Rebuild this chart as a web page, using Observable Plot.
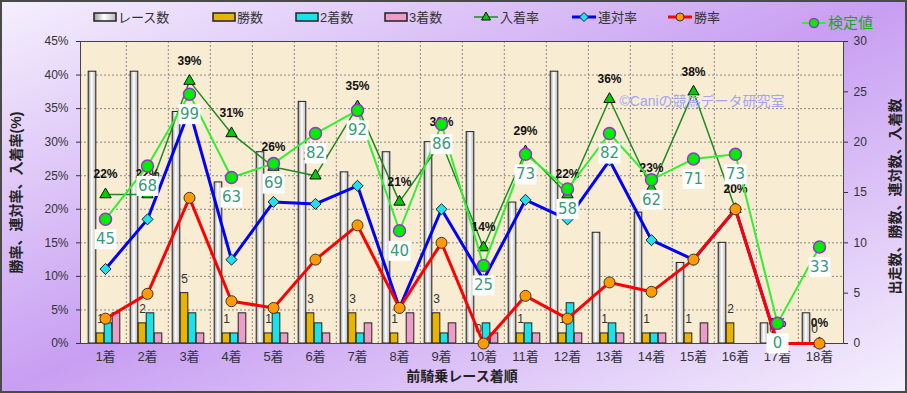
<!DOCTYPE html>
<html><head><meta charset="utf-8">
<script src="https://cdn.jsdelivr.net/npm/d3@7"></script>
<script src="https://cdn.jsdelivr.net/npm/@observablehq/plot@0.6"></script>
<style>
html,body{margin:0;padding:0;background:#fff;}
#chart{width:907px;height:393px;position:relative;overflow:hidden;
 background:linear-gradient(to bottom right,#f5f0fd 0%,#c89ef2 50%,#f5f0fd 100%);}
#chart svg{position:absolute;left:0;top:0;background:transparent;}
#border{position:absolute;left:0;top:0;width:907px;height:393px;box-sizing:border-box;border:2px solid #4a4a4a;pointer-events:none}
</style></head><body><div id="chart"><div id="border"></div></div>
<script>
// ---- data ----
const categories = ["1着","2着","3着","4着","5着","6着","7着","8着","9着","10着","11着","12着","13着","14着","15着","16着","17着","18着"];
const raceCounts   = [27, 27, 23, 16, 19, 24, 17, 19, 20, 21, 14, 27, 11, 13, 8, 10, 2, 3];
const winCounts    = [1, 2, 5, 1, 1, 3, 3, 1, 3, 0, 1, 1, 1, 1, 1, 2, 0, 0];
const secondCounts = [2, 3, 3, 1, 3, 2, 1, 0, 1, 2, 2, 4, 2, 1, 0, 0, 0, 0];
const thirdCounts  = [3, 1, 1, 3, 1, 1, 2, 3, 2, 1, 1, 1, 1, 1, 2, 0, 0, 0];
const winRate      = [3.7, 7.4, 21.7, 6.3, 5.3, 12.5, 17.6, 5.3, 15.0, 0, 7.1, 3.7, 9.1, 7.7, 12.5, 20.0, 0, 0];
const rentaiRate   = [11.1, 18.5, 34.8, 12.5, 21.1, 20.8, 23.5, 5.3, 20.0, 9.5, 21.4, 18.5, 27.3, 15.4, 12.5, 20.0, 0, 0];
const placeRate    = [22.2, 22.2, 39.1, 31.3, 26.3, 25.0, 35.3, 21.1, 30.0, 14.3, 28.6, 22.2, 36.4, 23.1, 37.5, 20.0, 0, 0];
const testValues   = [45, 68, 99, 63, 69, 82, 92, 40, 86, 25, 73, 58, 82, 62, 71, 73, 0, 33];
const rateTicks  = [0, 5, 10, 15, 20, 25, 30, 35, 40, 45];
const countTicks = [0, 5, 10, 15, 20, 25, 30];

// ---- scale helpers (right count axis 0-30 shares the 0-45% axis; 検定値 on its own hidden axis) ----
const C2R = 45 / 30;
const testToRate = v => 3 + 0.345 * v;

const rows = categories.map((c, i) => ({
  cat: c, races: raceCounts[i], wins: winCounts[i], seconds: secondCounts[i], thirds: thirdCounts[i],
  win: winRate[i], rentai: rentaiRate[i], place: placeRate[i], test: testValues[i]
}));

const W = 907, H = 393, ML = 80, MR = 64, MT = 41, MB = 50;
const bw = (W - ML - MR) / categories.length;
const half = bw / 2;
const FONT = "'Liberation Sans','Noto Sans CJK JP',sans-serif";

const boxSymbol = {draw(ctx) { ctx.rect(-11, -10, 22, 20); }};

const barStyle = {stroke: "#222", strokeWidth: 1};

const plot = Plot.plot({
  width: W, height: H,
  marginLeft: ML, marginRight: MR, marginTop: MT, marginBottom: MB,
  style: {fontFamily: FONT, fontSize: "12px", color: "#333", background: "transparent"},
  x: {type: "band", domain: categories, padding: 0, label: null},
  y: {domain: [0, 45], label: null},
  marks: [
    Plot.frame({fill: "#f8ecd3"}),
    Plot.gridY(rateTicks, {stroke: "#8a8a8a", strokeOpacity: 1, strokeDasharray: "2,2"}),
    Plot.ruleX(categories.slice(1), {dx: -half, stroke: "#8a8a8a", strokeDasharray: "2,2"}),
    Plot.barY(rows, {x: "cat", y: d => d.races * C2R, fill: "url(#raceGrad)", insetLeft: half - 17, insetRight: bw - half + 9, ...barStyle}),
    Plot.barY(rows.filter(d => d.wins > 0), {x: "cat", y: d => d.wins * C2R, fill: "#e8b400", insetLeft: half - 9, insetRight: half + 1, ...barStyle}),
    Plot.barY(rows.filter(d => d.seconds > 0), {x: "cat", y: d => d.seconds * C2R, fill: "#19e3ea", insetLeft: half - 1, insetRight: half - 7, ...barStyle}),
    Plot.barY(rows.filter(d => d.thirds > 0), {x: "cat", y: d => d.thirds * C2R, fill: "#ec9cc8", insetLeft: half + 7, insetRight: half - 15, ...barStyle}),
    Plot.frame({stroke: "#444"}),
    Plot.axisY(rateTicks, {anchor: "left", tickFormat: d => d + "%", tickSize: 4, tickPadding: 8, fontSize: 12, label: null}),
    Plot.axisY(countTicks.map(c => c * C2R), {anchor: "right", tickFormat: d => Math.round(d / C2R), tickSize: 4, tickPadding: 6, fontSize: 12, label: null}),
    Plot.axisX({tickSize: 0, tickPadding: 8, fontSize: 13, label: null}),
    // 入着率
    Plot.line(rows, {x: "cat", y: "place", stroke: "#1f8a1f", strokeWidth: 1.5}),
    Plot.dot(rows, {x: "cat", y: "place", symbol: "triangle", r: 4.2, fill: "#00cc00", stroke: "#111", strokeWidth: 1}),
    Plot.text(rows, {x: "cat", y: "place", text: d => Math.round(d.place) + "%", dy: -20, fontSize: 12, fontWeight: "bold", fill: "#111"}),
    // 勝数 labels
    Plot.text(rows, {x: "cat", y: d => d.wins * C2R, text: d => String(d.wins), dx: -5, dy: -14, fontSize: 12, fill: "#333"}),
    // 連対率
    Plot.line(rows, {x: "cat", y: "rentai", stroke: "#0000ff", strokeWidth: 3}),
    Plot.dot(rows, {x: "cat", y: "rentai", symbol: "diamond2", r: 5, fill: "#22e0f0", stroke: "#222", strokeWidth: 1}),
    // 勝率
    Plot.line(rows, {x: "cat", y: "win", stroke: "#ff0000", strokeWidth: 3}),
    Plot.dot(rows, {x: "cat", y: "win", r: 5.5, fill: "#ff9a00", stroke: "#333", strokeWidth: 1}),
    // 検定値
    Plot.line(rows, {x: "cat", y: d => testToRate(d.test), stroke: "#33ee33", strokeWidth: 2}),
    Plot.dot(rows, {x: "cat", y: d => testToRate(d.test), r: 6, fill: "#00ee00", stroke: "#9933cc", strokeWidth: 1.5}),
    Plot.dot(rows, {x: "cat", y: d => testToRate(d.test), dy: 20, symbol: boxSymbol, r: 5, fill: "#ffffff", stroke: "none"}),
    Plot.text(rows, {x: "cat", y: d => testToRate(d.test), text: d => String(d.test), dy: 20, fontSize: 15, fill: "#3a9a7a", fontFamily: "'DejaVu Sans',sans-serif"}),
    // titles & watermark
    Plot.text(["勝率、連対率、入着率(%)"], {frameAnchor: "left", textAnchor: "middle", dx: -64, rotate: -90, fontSize: 14, fontWeight: "bold", fill: "#222"}),
    Plot.text(["出走数、勝数、連対数、入着数"], {frameAnchor: "right", textAnchor: "middle", dx: 52, dy: 4, rotate: -90, fontSize: 14, fontWeight: "bold", fill: "#222"}),
    Plot.text(["前騎乗レース着順"], {frameAnchor: "bottom", textAnchor: "middle", dy: 37, fontSize: 14, fontWeight: "bold", fill: "#222"}),
    Plot.text(["©Caniの競馬データ研究室"], {frameAnchor: "top-left", dx: 539, dy: 55, textAnchor: "start", fontSize: 14, fill: "#a4a4f2"})
  ]
});

const svg = d3.select(plot);
const defs = svg.insert("defs", ":first-child");
const g = defs.append("linearGradient").attr("id", "raceGrad").attr("x1", "0").attr("x2", "1").attr("y1", "0").attr("y2", "0");
g.append("stop").attr("offset", "0%").attr("stop-color", "#9a9a9a");
g.append("stop").attr("offset", "45%").attr("stop-color", "#ffffff");
g.append("stop").attr("offset", "100%").attr("stop-color", "#b8b8b8");

// ---- legend ----
const legendItems = [
  {label: "レース数", kind: "bar", fill: "url(#raceGrad)", tx: 118},
  {label: "勝数", kind: "bar", fill: "#e8b400", tx: 237},
  {label: "2着数", kind: "bar", fill: "#19e3ea", tx: 320},
  {label: "3着数", kind: "bar", fill: "#ec9cc8", tx: 409},
  {label: "入着率", kind: "line", stroke: "#1f8a1f", sym: "tri", fill: "#00cc00", tx: 500},
  {label: "連対率", kind: "line", stroke: "#0000ff", sym: "dia", fill: "#22e0f0", tx: 598},
  {label: "勝率", kind: "line", stroke: "#ff0000", sym: "circ", fill: "#ff9a00", tx: 694}
];
const lg = svg.append("g").attr("font-family", FONT).attr("text-anchor", "start");
for (const it of legendItems) {
  const y = 17;
  if (it.kind === "bar") {
    lg.append("rect").attr("x", it.tx - 24).attr("y", y - 4).attr("width", 22).attr("height", 8)
      .attr("fill", it.fill).attr("stroke", "#222").attr("stroke-width", 1.5);
  } else {
    lg.append("line").attr("x1", it.tx - 26).attr("x2", it.tx - 2).attr("y1", y).attr("y2", y)
      .attr("stroke", it.stroke).attr("stroke-width", it.sym === "tri" ? 1.5 : 3);
    const cx = it.tx - 14;
    if (it.sym === "tri") lg.append("path").attr("d", `M${cx},${y-5}L${cx+4.5},${y+3}L${cx-4.5},${y+3}Z`).attr("fill", it.fill).attr("stroke", "#111");
    else if (it.sym === "dia") lg.append("path").attr("d", `M${cx},${y-4.5}L${cx+4.5},${y}L${cx},${y+4.5}L${cx-4.5},${y}Z`).attr("fill", it.fill).attr("stroke", "#222");
    else lg.append("circle").attr("cx", cx).attr("cy", y).attr("r", 4).attr("fill", it.fill).attr("stroke", "#333");
  }
  lg.append("text").attr("x", it.tx).attr("y", y).attr("dy", "0.35em").attr("font-size", 13).attr("fill", "#333").text(it.label);
}
// 検定値 legend
lg.append("line").attr("x1", 802).attr("x2", 826).attr("y1", 23).attr("y2", 23).attr("stroke", "#33ee33").attr("stroke-width", 2);
lg.append("circle").attr("cx", 814).attr("cy", 23).attr("r", 4.5).attr("fill", "#00ee00").attr("stroke", "#9933cc").attr("stroke-width", 1.5);
lg.append("text").attr("x", 828).attr("y", 23).attr("dy", "0.35em").attr("font-size", 15).attr("fill", "#11aa11").text("検定値");

document.getElementById("chart").insertBefore(plot, document.getElementById("border"));
</script>
</body></html>
